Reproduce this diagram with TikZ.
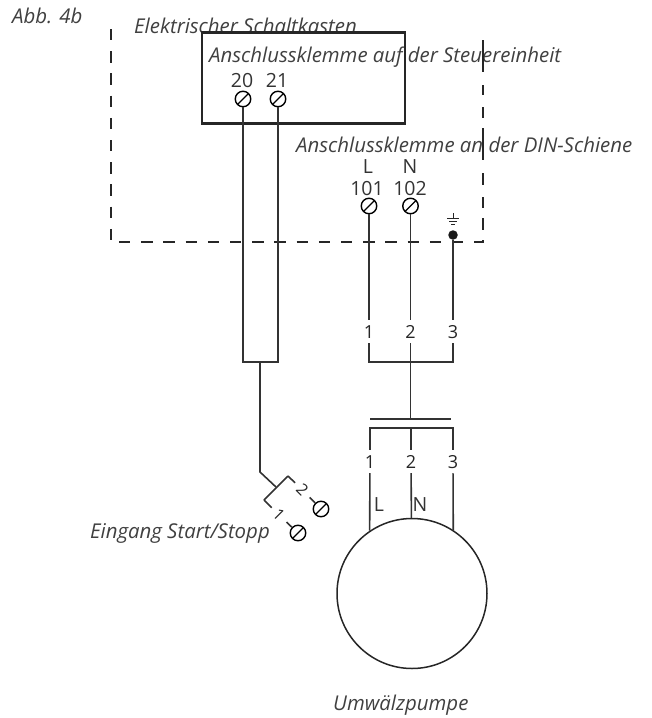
\documentclass[tikz,border=0pt]{standalone}
\usepackage{fontspec}
\usepackage{tikz}
\setmainfont{Open Sans}
\usetikzlibrary{positioning}

\begin{document}
\begin{tikzpicture}[x=1pt,y=-1pt]
\tikzset{T/.style={circle,draw=black,line width=1.4pt,minimum size=15.5pt,inner sep=0pt,
    path picture={\draw[line width=1.4pt] (path picture bounding box.south west) -- (path picture bounding box.north east);}}}
\tikzset{W/.style={line width=1.6pt,black!80}}
\tikzset{D/.style={line width=1.6pt,black!85,dash pattern=on 11.3pt off 10.9pt}}
\tikzset{I/.style={font=\fontsize{20.4}{22}\selectfont\itshape,text=black!75,inner sep=0pt,anchor=base west}}
\tikzset{N/.style={font=\fontsize{19.5}{22}\selectfont,text=black!80,inner sep=1pt,anchor=base}}
\tikzset{A/.style={font=\fontsize{18}{20}\selectfont,text=black!85,inner sep=5pt,anchor=base}}
\tikzset{S/.style={font=\fontsize{16}{18}\selectfont,text=black!85,inner sep=5.5pt,rotate=-45}}

  \useasboundingbox (0,0) rectangle (652,718);

  % texts
  \node[I] (abb) at (12,23) {Abb. 4b};
  \node[I] (kasten) at (134,33) {Elektrischer Schaltkasten};
  \node[I] (klemme1) at (209,62) {Anschlussklemme auf der Steuereinheit};
  \node[I] (klemme2) at (296,152) {Anschlussklemme an der DIN-Schiene};
  \node[I,anchor=base east] (start) at (270,538) {Eingang Start/Stopp};
  \node[I] (pumpe) at (333,710) {Umwälzpumpe};

  % dashed frame
  \coordinate (d1) at (111,29);
  \coordinate (d2) at (111,241);
  \coordinate (d3) at (119,242);
  \coordinate (d4) at (483,242);
  \coordinate (d5) at (483,242.6);
  \coordinate (d6) at (483,40);
  \draw[D] (d1) -- (d2);
  \draw[D] (d3) -- (d4);
  \draw[D,dash pattern=on 32pt off 13pt on 10pt off 12pt on 11pt off 10pt on 32pt off 13pt on 12pt off 12pt on 11pt off 10pt on 12pt off 10pt on 3pt off 10pt] (d6) -- (d5);

  % control unit
  \node[draw=black!85,line width=2.2pt,minimum width=203pt,minimum height=91pt,inner sep=0pt] (box) at (303.5,78) {};
  \node[T] (t20) at (243,99) {};
  \node[T] (t21) at (278,99) {};
  \node[N] (n20) at (242,87) {20};
  \node[N] (n21) at (277,87) {21};
  \coordinate (c1) at (243,362);
  \coordinate (c2) at (278,362);
  \coordinate (c3) at (260,362);
  \coordinate (c4) at (260,472);
  \coordinate (c5) at (276,487);
  \coordinate (c6) at (288,476);
  \coordinate (c7) at (264,500);
  \draw[W] (t20) -- (c1) -- (c2) -- (t21);
  \draw[W] (c3) -- (c4) -- (c5);
  \draw[W] (c7) -- (c6);

  % start/stop
  \node[T] (t1) at (298,533) {};
  \node[T] (t2) at (321,509) {};
  \node[S] (s1) at (279,515) {1};
  \node[S] (s2) at (302.5,490) {2};
  \draw[W] (c7) -- (s1) -- (t1);
  \draw[W] (c6) -- (s2) -- (t2);

  % din rail
  \node[N] (l1) at (368,173) {L};
  \node[N] (l2) at (410,173) {N};
  \node[N] (n101) at (367,195) {101};
  \node[N] (n102) at (410,195) {102};
  \node[T] (t101) at (369,206) {};
  \node[T] (t102) at (410.5,206) {};
  \node[circle,fill=black!90,minimum size=9.5pt,inner sep=0pt] (pe) at (453,235) {};
  \coordinate (e0) at (453,213);
  \coordinate (e1) at (453,218);
  \draw[line width=1pt,black!85] (e0) -- (e1);
  \draw[line width=1pt,black!85] (447,218) -- (459,218);
  \draw[line width=1pt,black!85] (449,221) -- (457,221);
  \draw[line width=1pt,black!85] (451,224) -- (455,224);

  \node[A] (a1) at (369,338) {1};
  \node[A] (a2) at (410.5,338) {2};
  \node[A] (a3) at (453,338) {3};
  \coordinate (j1) at (369,362);
  \coordinate (j2) at (410.5,362);
  \coordinate (j3) at (453,362);
  \coordinate (j4) at (410.5,419);
  \draw[W] (t101) -- (a1);
  \draw[W] (t102) -- (a2);
  \draw[W] (pe) -- (a3);
  \draw[W] (a1) -- (j1) -- (j3) -- (a3);
  \draw[W] (a2) -- (j4);

  % plug
  \coordinate (b1) at (370,419);
  \coordinate (b2) at (451,419);
  \coordinate (b3) at (370,428);
  \coordinate (b4) at (411,428);
  \coordinate (b5) at (453,428);
  \draw[W] (b1) -- (b2);
  \node[A] (p1) at (370,468) {1};
  \node[A] (p2) at (411,468) {2};
  \node[A] (p3) at (453,468) {3};
  \draw[W] (p1) -- (b3) -- (b5) -- (p3);
  \draw[W] (b4) -- (p2);

  % pump
  \node[circle,draw=black!85,line width=1.5pt,minimum size=150pt,inner sep=0pt] (pump) at (412,593.5) {};
  \coordinate (p4) at (pump.124);
  \coordinate (p5) at (pump.57);
  \node[N] (pl) at (379,511) {L};
  \node[N] (pn) at (420,511) {N};
  \draw[W] (p1) -- (p4);
  \draw[W] (p2) -- (pump);
  \draw[W] (p3) -- (p5);
\end{tikzpicture}
\end{document}
